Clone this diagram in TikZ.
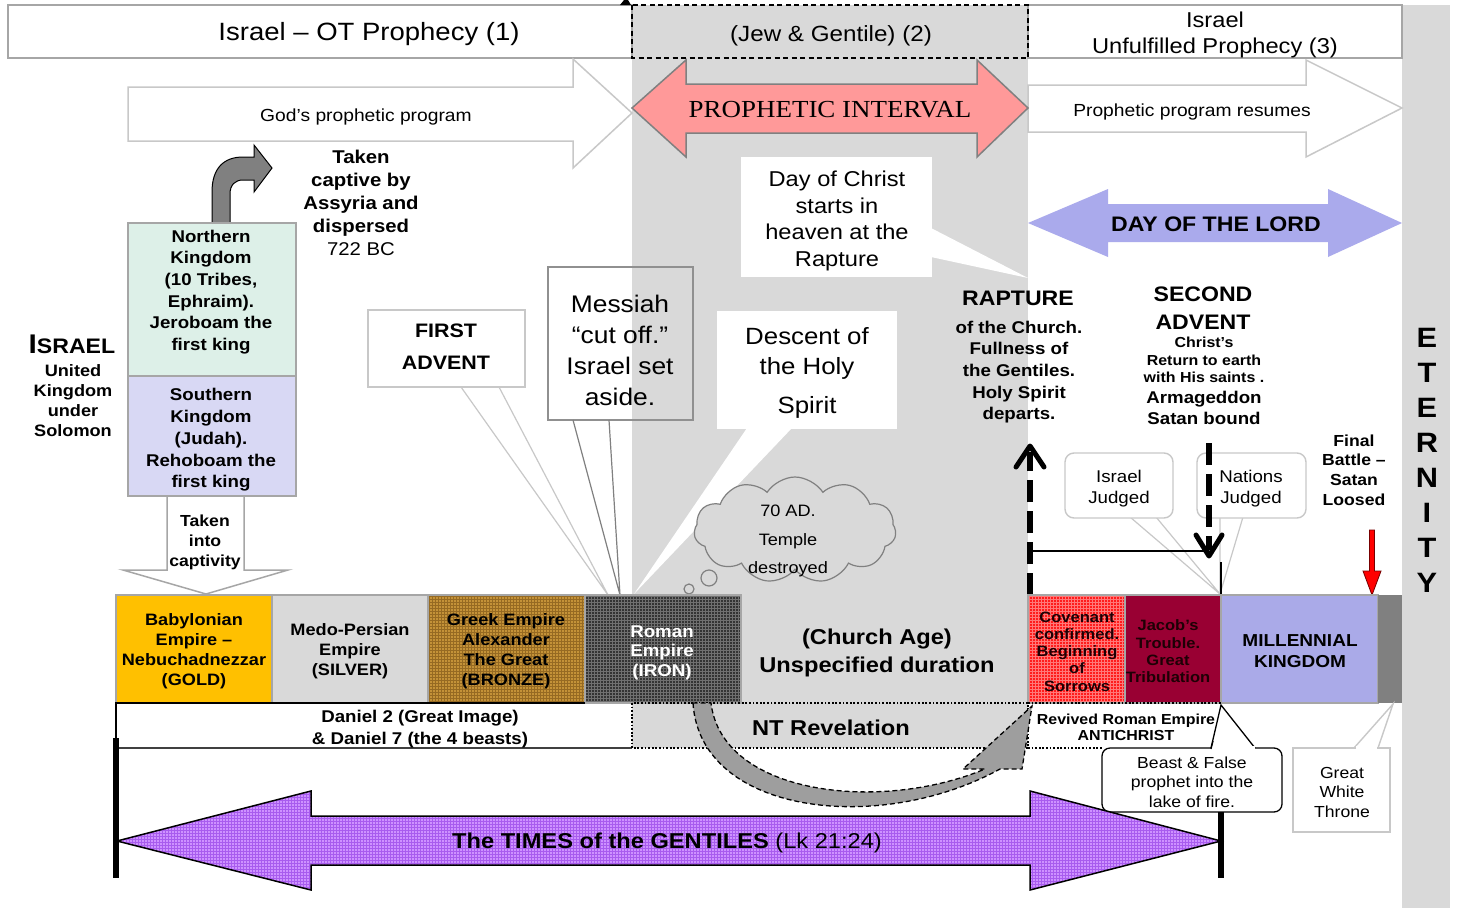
\documentclass[tikz,border=0pt]{standalone}
\usepackage{fontspec}
\setmainfont[FakeStretch=1.1]{Liberation Sans}
\newfontfamily\tmsfont[FakeStretch=1.1]{Liberation Serif}
\usetikzlibrary{shapes.symbols,patterns}
\newcommand\fsz[2]{\fontsize{#1}{#2}\selectfont}
\definecolor{colgray}{RGB}{217,217,217}
\definecolor{bordgray}{RGB}{166,166,166}
\definecolor{lightbord}{RGB}{200,200,200}
\definecolor{midgray}{RGB}{128,128,128}
\definecolor{pinkc}{RGB}{255,153,153}
\definecolor{lav}{RGB}{170,170,236}
\definecolor{mint}{RGB}{221,240,232}
\definecolor{southc}{RGB}{216,216,244}
\definecolor{goldc}{RGB}{255,192,0}
\definecolor{bronzec}{RGB}{196,146,56}
\definecolor{bronzep}{RGB}{150,106,34}
\definecolor{ironc}{RGB}{52,52,52}
\definecolor{ironp}{RGB}{112,112,112}
\definecolor{covc}{RGB}{255,28,28}
\definecolor{covp}{RGB}{255,120,120}
\definecolor{jacobc}{RGB}{153,0,51}
\definecolor{millc}{RGB}{170,170,232}
\definecolor{purc}{RGB}{206,146,255}
\definecolor{purp}{RGB}{168,92,238}
\definecolor{curvegray}{RGB}{158,158,158}
\definecolor{darktxt}{RGB}{30,0,5}
\begin{document}
\begin{tikzpicture}[x=1pt,y=-1pt,
  txt/.style={inner sep=0pt, align=center},
  bx/.style={draw=bordgray, line width=1.5pt},
  lbx/.style={draw=lightbord, line width=1.4pt, fill=white},
  ptr/.style={draw=lightbord, line width=1.2pt},
  thickdash/.style={line width=6pt, dash pattern=on 22pt off 9pt},
  chev/.style={line width=5pt, line cap=round, line join=round}]
\useasboundingbox (0,0) rectangle (1457,908);
\fill[white] (0,0) rectangle (1457,908);
% gray columns
\fill[colgray] (1402,5) rectangle (1450,908);
\fill[colgray] (632,5) rectangle (1028,748);
% top boxes
\draw[bx, fill=white] (8,5) rectangle (632,58);
\draw[bx, fill=white] (1028,5) rectangle (1402,58);
\draw[black, line width=1.3pt, dash pattern=on 5pt off 3.5pt] (632,5) rectangle (1028,58);
\fill[black] (620,5) -- (624,0) -- (628,0) -- (631,5) -- cycle;
% big arrows
\draw[lightbord, line width=1.5pt, fill=white] (128,87) -- (573,87) -- (573,59) -- (632,113) -- (573,168) -- (573,141) -- (128,141) -- cycle;
\draw[lightbord, line width=1.5pt, fill=white] (1028,85) -- (1306,85) -- (1306,60) -- (1402,108) -- (1306,157) -- (1306,132) -- (1028,132) -- cycle;
\draw[midgray, line width=1.5pt, fill=pinkc] (632,108) -- (686,60) -- (686,84) -- (977,84) -- (977,60) -- (1028,108) -- (977,157) -- (977,133) -- (686,133) -- (686,157) -- cycle;
\fill[lav] (1028,223) -- (1108,189) -- (1108,204) -- (1328,204) -- (1328,189) -- (1402,223) -- (1328,257) -- (1328,242) -- (1108,242) -- (1108,257) -- cycle;
% Day of Christ callout
\fill[white] (741,157) rectangle (932,277);
\fill[white] (931,228) -- (1028,278) -- (931,257) -- cycle;
% bent arrow
\draw[black, line width=1pt, fill=midgray] (212,223) -- (212,192) .. controls (212,168) and (224,157) .. (243,157) -- (254,157) -- (254,145) -- (272,168) -- (254,192) -- (254,180) -- (243,180) .. controls (235,180) and (230,185) .. (230,194) -- (230,223) -- cycle;
% kingdoms
\draw[bx, fill=mint] (128,223) rectangle (296,376);
\draw[bx, fill=southc] (128,376) rectangle (296,496);
\draw[bx, fill=white] (167,496) -- (244,496) -- (244,570) -- (288,570) -- (206,594) -- (123,570) -- (167,570) -- cycle;
% FIRST ADVENT callout
\fill[white] (461,386) -- (608,595) -- (499,386) -- cycle;
\draw[ptr] (461,387) -- (608,595) -- (499,387);
\draw[lbx] (368,310) rectangle (525,387);
% Messiah callout
\draw[draw={rgb,255:red,144;green,144;blue,144}, line width=1.5pt] (548,267) rectangle (693,420);
\draw[draw=midgray, line width=1.2pt] (573,420) -- (620,595) -- (609,420);
% Descent callout
\fill[white] (717,311) rectangle (897,429);
\fill[white] (747,428) -- (634,594) -- (792,428) -- cycle;
% cloud
\node[cloud, cloud puffs=11, cloud puff arc=115, aspect=1.9, draw=midgray, fill=colgray, line width=1.2pt, minimum width=202, minimum height=106] (cl) at (795,530) {};
\draw[midgray, line width=1.2pt, fill=colgray] (709,578) circle (8);
\draw[midgray, line width=1.2pt, fill=colgray] (689,589) circle (5);
% Judged callouts
\fill[white] (1130,517) -- (1220,594) -- (1156,517) -- cycle;
\draw[ptr] (1130,517) -- (1220,594) -- (1156,517);
\draw[lbx, rounded corners=9pt] (1065,453) rectangle (1173,518);
\fill[white] (1221,517) -- (1220,594) -- (1243,517) -- cycle;
\draw[ptr] (1220,517) -- (1220,594) -- (1243,517);
\draw[lbx, rounded corners=9pt] (1197,453) rectangle (1306,518);
% connector lines
\draw[black, line width=2pt] (1030,551) -- (1209,551);
\draw[black, line width=1.5pt] (1221,562) -- (1221,595);
\draw[black, thickdash] (1209,443) -- (1209,550);
\draw[black, chev] (1196,535) -- (1209,556) -- (1222,535);
\draw[black, thickdash] (1030,595) -- (1030,452);
\draw[black, chev] (1016,467) -- (1030,446) -- (1044,467);
% red arrow
\draw[draw={rgb,255:red,120;green,0;blue,0}, line width=0.8pt, fill=red] (1369.5,530) -- (1374.5,530) -- (1374.5,571) -- (1381,571) -- (1372,595) -- (1363,571) -- (1369.5,571) -- cycle;
% empire row
\draw[bx, fill=goldc] (116,595) rectangle (272,703);
\draw[bx, fill=colgray] (272,595) rectangle (428,703);
\fill[bronzec] (428,595) rectangle (585,703);
\fill[pattern=grid, pattern color=bronzep] (428,595) rectangle (585,703);
\draw[bx] (428,595) rectangle (585,703);
\fill[ironc] (585,595) rectangle (741,703);
\fill[pattern=grid, pattern color=ironp] (585,595) rectangle (741,703);
\draw[bx] (585,595) rectangle (741,703);
\fill[covc] (1028,595) rectangle (1125,703);
\fill[pattern=grid, pattern color=covp] (1028,595) rectangle (1125,703);
\draw[bx] (1028,595) rectangle (1125,703);
\draw[bx, fill=jacobc] (1125,595) rectangle (1221,703);
\draw[bx, fill=millc] (1221,595) rectangle (1378,703);
\fill[midgray] (1378,595) rectangle (1402,703);
% lower boxes
\draw[black, line width=1.3pt] (585,703) -- (116,703) -- (116,748);
\draw[black!75, line width=1.5pt] (116,748) -- (632,748);
\draw[black, line width=1.6pt, dash pattern=on 1.8pt off 1.8pt] (632,703) rectangle (1028,748);
\draw[black, line width=1.6pt, dash pattern=on 1.8pt off 1.8pt] (1028,703) -- (1221,703);
\draw[black, line width=1.6pt, dash pattern=on 1.8pt off 1.8pt] (1028,748) -- (1102,748);
% curved arrow
\draw[black, line width=1.3pt, dash pattern=on 5pt off 3pt, fill=curvegray] (693,703) .. controls (700,815) and (880,835) .. (1000,769) -- (1022,769) -- (1032,706) -- (963,769) -- (985,769) .. controls (880,813) and (722,795) .. (711,703) -- cycle;
% Beast callout
\fill[white] (1211,749) -- (1221,705) -- (1255,749) -- cycle;
\draw[black, line width=1.3pt] (1211,748) -- (1221,705) -- (1255,748);
\draw[black, line width=1.3pt, fill=white, rounded corners=8pt] (1102,748) rectangle (1282,812);
\fill[white] (1211,746) -- (1255,746) -- (1255,750) -- (1211,750) -- cycle;
\draw[black, line width=1.3pt] (1211,749) -- (1213,741);
% Great White Throne callout
\fill[white] (1354,749) -- (1393,704) -- (1378,749) -- cycle;
\draw[ptr, line width=1.4pt] (1354,748) -- (1393,704) -- (1378,748);
\draw[lbx] (1293,748) rectangle (1390,832);
\fill[white] (1355.5,746) rectangle (1377,750);
% Times of the Gentiles
\fill[purc] (117,841) -- (311,791) -- (311,816) -- (1030,816) -- (1030,791) -- (1221,841) -- (1030,890) -- (1030,865) -- (311,865) -- (311,890) -- cycle;
\fill[pattern=grid, pattern color=purp] (117,841) -- (311,791) -- (311,816) -- (1030,816) -- (1030,791) -- (1221,841) -- (1030,890) -- (1030,865) -- (311,865) -- (311,890) -- cycle;
\draw[black, line width=1.5pt] (117,841) -- (311,791) -- (311,816) -- (1030,816) -- (1030,791) -- (1221,841) -- (1030,890) -- (1030,865) -- (311,865) -- (311,890) -- cycle;
\draw[black, line width=6pt] (116,738) -- (116,878);
\draw[black, line width=6pt] (1221,812) -- (1221,878);
% ---------- texts ----------
\node[txt, font={\fsz{25}{30}}] (tA) at (369,34) {Israel – OT Prophecy (1)};
\node[txt, font={\fsz{22}{26}}] (tB) at (831,36) {(Jew \& Gentile) (2)};
\node[txt, font={\fsz{21.5}{26}}] (tC) at (1215,35) {Israel\\Unfulfilled Prophecy (3)};
\node[txt, font={\fsz{17.5}{21}}] (tGod) at (366,117) {God’s prophetic program};
\node[txt, font={\tmsfont\fsz{24.5}{28}}] (tPI) at (830,110) {PROPHETIC INTERVAL};
\node[txt, font={\fsz{17.5}{21}}] (tPR) at (1192,112) {Prophetic program resumes};
\node[txt, font={\bfseries\fsz{21}{25}}] (tDL) at (1216,224) {DAY OF THE LORD};
\node[txt, font={\fsz{21.5}{26.5}}] (tDC) at (837,221) {Day of Christ\\starts in\\heaven at the\\Rapture};
\node[txt, font={\bfseries\fsz{18.5}{23}}] (tTC) at (361,203) {Taken\\captive by\\Assyria and\\dispersed\\\mdseries 722 BC};
\node[txt, font=\bfseries] (tIs) at (72,344) {{\fsz{27}{27}I}{\fsz{21}{21}SRAEL}};
\node[txt, font={\bfseries\fsz{16.5}{20}}] (tUK) at (73,401) {United\\Kingdom\\under\\Solomon};
\node[txt, font={\bfseries\fsz{17}{21.6}}] (tNK) at (211,292) {Northern\\Kingdom\\(10 Tribes,\\Ephraim).\\Jeroboam the\\first king};
\node[txt, font={\bfseries\fsz{17}{21.7}}] (tSK) at (211,440) {Southern\\Kingdom\\(Judah).\\Rehoboam the\\first king};
\node[txt, font={\bfseries\fsz{16}{20}}] (tTI) at (205,542) {Taken\\into\\captivity};
\node[txt, font={\bfseries\fsz{19.5}{32}}] (tFA) at (446,347) {FIRST\\ADVENT};
\node[txt, font={\fsz{24}{31}}] (tMe) at (620,350) {Messiah\\“cut off.”\\Israel set\\aside.};
\node[txt, font={\fsz{23.5}{30}}] (tDe) at (807,373) {Descent of\\the Holy\\[9pt]Spirit};
\node[txt, font={\fsz{16.5}{28.5}}] (t70) at (788,541) {70 AD.\\Temple\\destroyed};
\node[txt, font={\bfseries\fsz{21}{25}}] (tRa) at (1018,298) {RAPTURE};
\node[txt, font={\bfseries\fsz{17}{21.7}}] (tRc) at (1019,372) {of the Church.\\Fullness of\\the Gentiles.\\Holy Spirit\\departs.};
\node[txt, font={\bfseries\fsz{21}{27.5}}] (tSA) at (1203,308) {SECOND\\ADVENT};
\node[txt, font={\bfseries\fsz{14.5}{17.5}}] (tCr) at (1204,360) {Christ’s\\Return to earth\\with His saints .};
\node[txt, font={\bfseries\fsz{17}{21}}] (tAr) at (1204,408) {Armageddon\\Satan bound};
\node[txt, font={\bfseries\fsz{16}{19.7}}] (tFB) at (1354,470) {Final\\Battle –\\Satan\\Loosed};
\node[txt, font={\bfseries\fsz{28}{35}}] (tEt) at (1427,460) {E\\T\\E\\R\\N\\I\\T\\Y};
\node[txt, font={\fsz{17}{21}}] (tIJ) at (1119,489) {Israel\\Judged};
\node[txt, font={\fsz{17}{21}}] (tNJ) at (1251,489) {Nations\\Judged};
\node[txt, font={\bfseries\fsz{16.5}{20}}] (tBa) at (194,651.5) {Babylonian\\Empire –\\Nebuchadnezzar\\(GOLD)};
\node[txt, font={\bfseries\fsz{16.5}{20}}] (tMP) at (350,651.5) {Medo-Persian\\Empire\\(SILVER)};
\node[txt, font={\bfseries\fsz{16.5}{20}}] (tGr) at (506,651.5) {Greek Empire\\Alexander\\The Great\\(BRONZE)};
\node[txt, font={\bfseries\fsz{17}{19.5}}, text=white] (tRo) at (662,652.5) {Roman\\Empire\\(IRON)};
\node[txt, font={\bfseries\fsz{21.5}{27.5}}] (tCA) at (877,653) {(Church Age)\\Unspecified duration};
\node[txt, font={\bfseries\fsz{15}{17.3}}, text=darktxt] (tCo) at (1077,651.5) {Covenant\\confirmed.\\Beginning\\of\\Sorrows};
\node[txt, font={\bfseries\fsz{15}{17.4}}, text=darktxt] (tJa) at (1168,651.5) {Jacob’s\\Trouble.\\Great\\Tribulation};
\node[txt, font={\bfseries\fsz{17.3}{21}}] (tMi) at (1300,651.5) {MILLENNIAL\\KINGDOM};
\node[txt, font={\bfseries\fsz{17}{22}}] (tDa) at (420,729) {Daniel 2 (Great Image)\\\& Daniel 7 (the 4 beasts)};
\node[txt, font={\bfseries\fsz{21.5}{25}}] (tNT) at (831,728) {NT Revelation};
\node[txt, font={\bfseries\fsz{14.5}{16.5}}] (tRe) at (1126,727.5) {Revived Roman Empire\\ANTICHRIST};
\node[txt, font={\fsz{16}{19.5}}] (tBe) at (1192,782) {Beast \& False\\prophet into the\\lake of fire.};
\node[txt, font={\fsz{16}{19.5}}] (tGW) at (1342,792) {Great\\White\\Throne};
\node[txt, font={\fsz{21.5}{25}}] (tTG) at (667,843) {\textbf{The TIMES of the GENTILES} (Lk 21:24)};
\end{tikzpicture}
\end{document}
